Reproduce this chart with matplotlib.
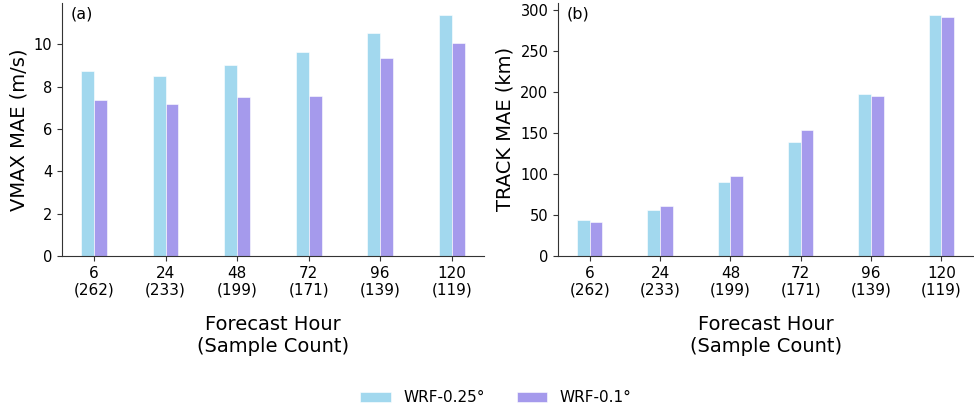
import matplotlib
matplotlib.use("Agg")
import matplotlib.pyplot as plt
import numpy as np

hours = ["6", "24", "48", "72", "96", "120"]
counts = [262, 233, 199, 171, 139, 119]
vmax_025 = [8.72, 8.52, 9.01, 9.62, 10.52, 11.39]
vmax_01 = [7.39, 7.20, 7.50, 7.56, 9.37, 10.06]
track_025 = [43.9, 56.5, 90.7, 139.0, 197.6, 293.9]
track_01 = [41.9, 61.0, 97.6, 153.7, 195.5, 291.5]
series_names = ["WRF-0.25°", "WRF-0.1°"]
colors = ["#A2D8EE", "#A59AEC"]

tick_labels = [f"{h}\n({c})" for h, c in zip(hours, counts)]

fig = plt.figure(figsize=(9.74, 4.12), dpi=100)
ax1 = fig.add_axes([0.0637, 0.379, 0.433, 0.614])
ax2 = fig.add_axes([0.573, 0.379, 0.426, 0.614])

x = np.arange(len(hours))
w = 0.18

def draw(ax, a, b, ylabel, tag):
    ax.bar(x - w / 2, a, width=w, color=colors[0], edgecolor="white", linewidth=0.4, label=series_names[0])
    ax.bar(x + w / 2, b, width=w, color=colors[1], edgecolor="white", linewidth=0.4, label=series_names[1])
    ax.set_xticks(x)
    ax.set_xticklabels(tick_labels, fontsize=11)
    ax.tick_params(axis="y", labelsize=10.5)
    ax.set_ylabel(ylabel, fontsize=14)
    ax.set_xlabel("Forecast Hour\n(Sample Count)", fontsize=14, labelpad=12)
    for s in ["top", "right"]:
        ax.spines[s].set_visible(False)
    for s in ["left", "bottom"]:
        ax.spines[s].set_color("#333333")
    ax.tick_params(colors="#333333", labelcolor="black")
    ax.text(0.02, 0.985, tag, transform=ax.transAxes, fontsize=11.5, va="top", ha="left")

draw(ax1, vmax_025, vmax_01, "VMAX MAE (m/s)", "(a)")
draw(ax2, track_025, track_01, "TRACK MAE (km)", "(b)")

handles, labels = ax1.get_legend_handles_labels()
fig.legend(handles, labels, loc="center", bbox_to_anchor=(0.509, 0.034), ncol=2,
           frameon=False, fontsize=11, columnspacing=2.1)

fig.savefig("out.png", dpi=100)
